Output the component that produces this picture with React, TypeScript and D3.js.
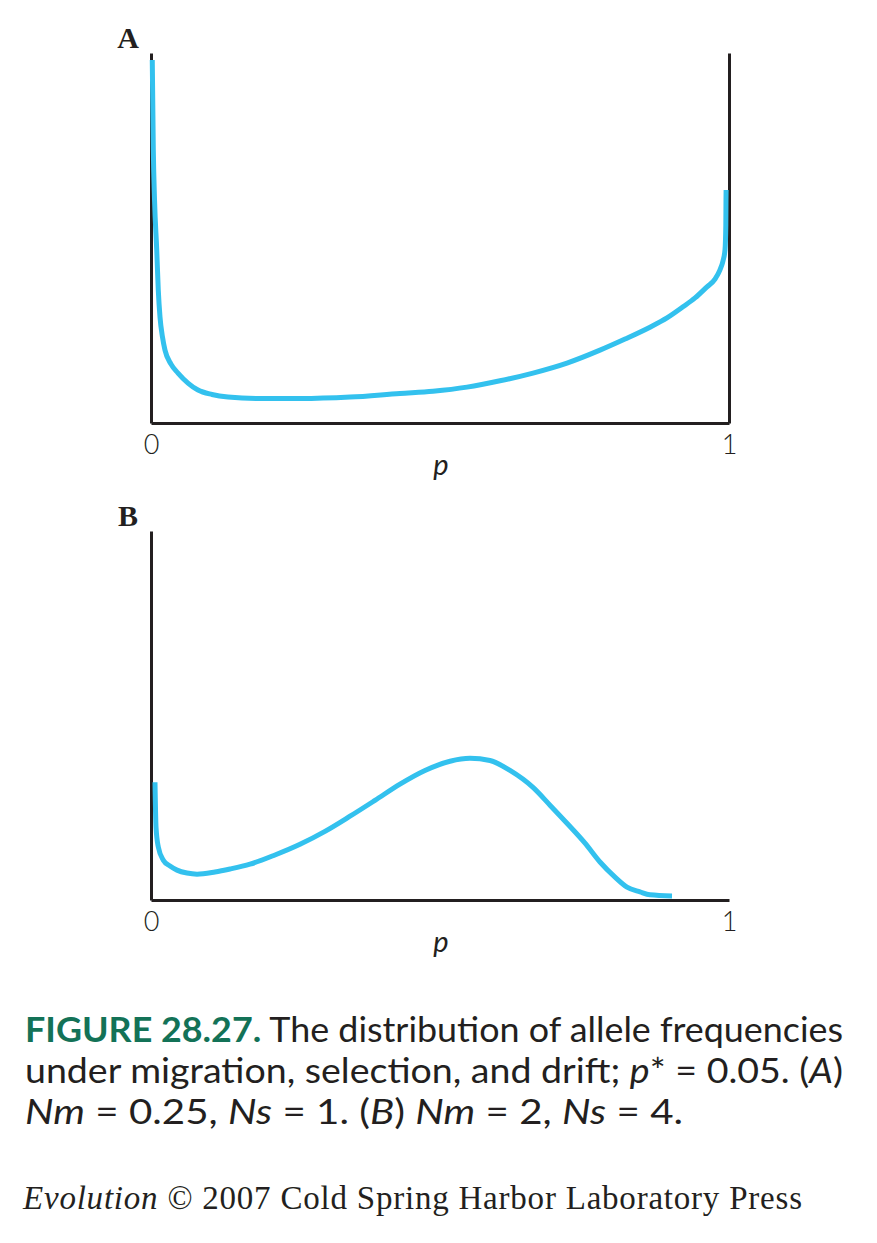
import React, { useEffect, useRef } from 'react';
import * as d3 from 'd3';

// panel A: Nm = 0.25, Ns = 1
const pA = [0.0022, 0.0040, 0.0061, 0.0099, 0.0126, 0.0156, 0.0199, 0.0242, 0.0346, 0.0467, 0.0640, 0.0813, 0.1055, 0.1332, 0.1851, 0.2578, 0.3443, 0.4308, 0.4879, 0.5467, 0.6038, 0.6609, 0.7197, 0.7768, 0.8201, 0.8633, 0.8927, 0.9204, 0.9412, 0.9619, 0.9758, 0.9844, 0.9896, 0.9931, 0.9945, 0.9948, 0.9950];
const densA = [9.81, 7.38, 6.03, 4.68, 3.59, 2.86, 2.32, 1.97, 1.59, 1.35, 1.08, 0.89, 0.77, 0.70, 0.66, 0.66, 0.70, 0.80, 0.86, 0.97, 1.14, 1.35, 1.62, 1.97, 2.27, 2.59, 2.84, 3.14, 3.38, 3.68, 3.89, 4.14, 4.38, 4.68, 5.35, 6.03, 6.30];

// panel B: Nm = 2, Ns = 4
const pB = [0.0069, 0.0087, 0.0126, 0.0213, 0.0329, 0.0450, 0.0623, 0.0796, 0.1107, 0.1367, 0.1713, 0.2145, 0.2578, 0.3010, 0.3443, 0.3875, 0.4308, 0.4740, 0.5173, 0.5519, 0.5865, 0.6211, 0.6609, 0.6903, 0.7197, 0.7509, 0.7768, 0.8028, 0.8235, 0.8460, 0.8633, 0.9014];
const densB = [3.19, 1.97, 1.44, 1.08, 0.92, 0.81, 0.73, 0.70, 0.76, 0.84, 0.97, 1.22, 1.51, 1.86, 2.27, 2.70, 3.14, 3.51, 3.76, 3.84, 3.78, 3.51, 3.05, 2.57, 2.08, 1.54, 1.03, 0.62, 0.35, 0.22, 0.14, 0.11];

const xTicks = [0, 1];
const panelLabels = ['A', 'B'];
const xLabel = 'p';

const INK = '#231f20';
const BLUE = '#33c1ee';
const TEAL = '#137257';

const App: React.FC = () => {
    const plotRef = useRef<SVGGElement>(null);

    useEffect(() => {
        const root = d3.select(plotRef.current);
        root.selectAll('*').remove();

        const x = d3.scaleLinear().domain([0, 1]).range([151, 729]);

        const panels = [
            { p: pA, d: densA, top: 53, bottom: 423, right: true, label: panelLabels[0], lx: 128, ly: 48 },
            { p: pB, d: densB, top: 531, bottom: 900, right: false, label: panelLabels[1], lx: 128, ly: 526 },
        ];

        panels.forEach(panel => {
            const y = d3.scaleLinear().domain([0, 10]).range([panel.bottom, panel.top]);
            const g = root.append('g');

            const bottomAxis = g.append('g')
                .attr('transform', `translate(0, ${panel.bottom})`)
                .call(d3.axisBottom(x).tickValues(xTicks).tickSize(0).tickPadding(12).tickFormat(d3.format('d')));
            bottomAxis.selectAll('text')
                .attr('font-family', 'Lato, "Open Sans", sans-serif')
                .attr('font-weight', 300)
                .attr('font-size', 27)
                .attr('fill', INK);

            g.append('g')
                .attr('transform', `translate(${x(0)}, 0)`)
                .call(d3.axisLeft(y).tickValues([]).tickSize(0));

            if (panel.right) {
                g.append('g')
                    .attr('transform', `translate(${x(1)}, 0)`)
                    .call(d3.axisRight(y).tickValues([]).tickSize(0));
            }

            g.selectAll('.domain')
                .attr('stroke', INK)
                .attr('stroke-width', 3);

            const line = d3.line<number>()
                .x((_, i) => x(panel.p[i]))
                .y(v => y(v))
                .curve(d3.curveMonotoneX);

            g.append('path')
                .datum(panel.d)
                .attr('d', line)
                .attr('fill', 'none')
                .attr('stroke', BLUE)
                .attr('stroke-width', 5);

            g.append('text')
                .attr('x', (x(0) + x(1)) / 2 + 1)
                .attr('y', panel.bottom + 52)
                .attr('text-anchor', 'middle')
                .attr('font-family', 'Lato, "Open Sans", sans-serif')
                .attr('font-style', 'italic')
                .attr('font-size', 29)
                .attr('fill', INK)
                .text(xLabel);

            g.append('text')
                .attr('x', panel.lx)
                .attr('y', panel.ly)
                .attr('text-anchor', 'middle')
                .attr('font-family', '"Liberation Serif", serif')
                .attr('font-weight', 'bold')
                .attr('font-size', 30)
                .attr('fill', INK)
                .text(panel.label);
        });
    }, []);

    const cap = { fontFamily: 'Lato, "Open Sans", sans-serif', fontSize: 34, fill: INK };

    return (
        <svg width={877} height={1243} style={{ position: 'absolute', left: 0, top: 0, background: '#fff' }}>
            <g ref={plotRef} />
            <g>
                <text x={25} y={1042} {...cap} textLength={818} lengthAdjust="spacingAndGlyphs">
                    <tspan fill={TEAL} fontWeight="bold">FIGURE 28.27.</tspan>
                    <tspan>{'  The distribution of allele frequencies'}</tspan>
                </text>
                <text x={25} y={1083} {...cap} textLength={818} lengthAdjust="spacingAndGlyphs">
                    <tspan>{'under  migration,  selection,  and  drift;  '}</tspan>
                    <tspan fontStyle="italic">p</tspan>
                    <tspan>{'* = 0.05. ('}</tspan>
                    <tspan fontStyle="italic">A</tspan>
                    <tspan>)</tspan>
                </text>
                <text x={25} y={1124} {...cap} textLength={658} lengthAdjust="spacingAndGlyphs">
                    <tspan fontStyle="italic">Nm</tspan>
                    <tspan>{' = 0.25, '}</tspan>
                    <tspan fontStyle="italic">Ns</tspan>
                    <tspan>{' = 1. ('}</tspan>
                    <tspan fontStyle="italic">B</tspan>
                    <tspan>{') '}</tspan>
                    <tspan fontStyle="italic">Nm</tspan>
                    <tspan>{' = 2, '}</tspan>
                    <tspan fontStyle="italic">Ns</tspan>
                    <tspan>{' = 4.'}</tspan>
                </text>
                <text x={23} y={1209} fontFamily='"Liberation Serif", serif' fontSize={33} fill={INK} textLength={779} lengthAdjust="spacing">
                    <tspan fontStyle="italic">Evolution</tspan>
                    <tspan>{' © 2007 Cold Spring Harbor Laboratory Press'}</tspan>
                </text>
            </g>
        </svg>
    );
};

export default App;
